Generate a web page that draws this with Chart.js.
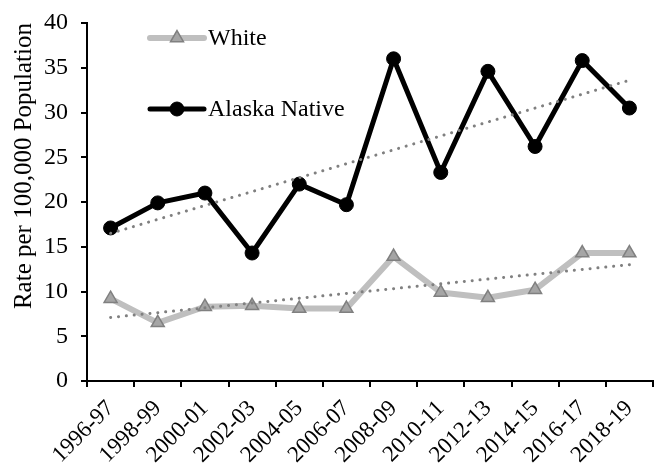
<!DOCTYPE html>
<html>
<head>
<meta charset="utf-8">
<script src="https://cdn.jsdelivr.net/npm/chart.js@4/dist/chart.umd.min.js"></script>
<style>
  html, body { margin: 0; padding: 0; background: #fff; }
  #wrap { width: 663px; height: 465px; }
</style>
</head>
<body>
<div id="wrap"><canvas id="c" width="663" height="465"></canvas></div>
<script>
const categories = ['1996-97','1998-99','2000-01','2002-03','2004-05','2006-07','2008-09','2010-11','2012-13','2014-15','2016-17','2018-19'];
const alaskaNative = [17.1, 19.9, 21.0, 14.3, 22.0, 19.7, 36.0, 23.3, 34.6, 26.2, 35.8, 30.5];
const white = [9.2, 6.5, 8.3, 8.4, 8.1, 8.1, 13.9, 9.9, 9.3, 10.2, 14.3, 14.3];
const alaskaTrend = [16.5, null, null, null, null, null, null, null, null, null, null, 33.6];
const whiteTrend = [7.1, null, null, null, null, null, null, null, null, null, null, 13.0];
const yTicks = [0, 5, 10, 15, 20, 25, 30, 35, 40];
const seriesNames = ['White', 'Alaska Native'];
const yTitle = 'Rate per 100,000 Population';

const FONT = "'Liberation Serif', 'Times New Roman', serif";
const whiteLine = '#BFBFBF', whiteFill = '#A5A5A5', whiteEdge = '#808080';
const trendColor = '#808080';

const legendPlugin = {
  id: 'customLegend',
  afterDraw(chart) {
    const ctx = chart.ctx;
    const items = [
      { label: seriesNames[0], y: 38, line: whiteLine, lw: 6, style: 'triangle', r: 7.5, fill: whiteFill, edge: whiteEdge, bw: 1.5 },
      { label: seriesNames[1], y: 109, line: '#000', lw: 5, style: 'circle', r: 7, fill: '#000', edge: '#000', bw: 1 }
    ];
    items.forEach(it => {
      ctx.save();
      ctx.strokeStyle = it.line;
      ctx.lineWidth = it.lw;
      ctx.lineCap = 'round';
      ctx.beginPath();
      ctx.moveTo(150, it.y);
      ctx.lineTo(204, it.y);
      ctx.stroke();
      ctx.fillStyle = it.fill;
      ctx.strokeStyle = it.edge;
      ctx.lineWidth = it.bw;
      Chart.helpers.drawPoint(ctx, { pointStyle: it.style, radius: it.r, rotation: 0, borderWidth: it.bw }, 177, it.y);
      ctx.fillStyle = '#000';
      ctx.font = '24px ' + FONT;
      ctx.textAlign = 'left';
      ctx.textBaseline = 'middle';
      ctx.fillText(it.label, 208, it.y + 1);
      ctx.restore();
    });
  }
};

new Chart(document.getElementById('c'), {
  type: 'line',
  data: {
    labels: categories,
    datasets: [
      { label: 'Alaska trend', data: alaskaTrend, spanGaps: true, borderColor: trendColor, borderWidth: 3,
        borderDash: [0.1, 7.8], borderCapStyle: 'round', pointRadius: 0, order: 0, tension: 0 },
      { label: 'White trend', data: whiteTrend, spanGaps: true, borderColor: trendColor, borderWidth: 3,
        borderDash: [0.1, 7.8], borderCapStyle: 'round', pointRadius: 0, order: 0, tension: 0 },
      { label: seriesNames[1], data: alaskaNative, borderColor: '#000', borderWidth: 5, pointStyle: 'circle',
        pointRadius: 7, pointBackgroundColor: '#000', pointBorderColor: '#000', pointBorderWidth: 1, order: 1,
        borderJoinStyle: 'round', tension: 0 },
      { label: seriesNames[0], data: white, borderColor: whiteLine, borderWidth: 6, pointStyle: 'triangle',
        pointRadius: 7.5, pointBackgroundColor: whiteFill, pointBorderColor: whiteEdge, pointBorderWidth: 1.5, order: 2,
        borderJoinStyle: 'round', tension: 0 }
    ]
  },
  options: {
    responsive: false,
    animation: false,
    devicePixelRatio: 1,
    layout: { padding: { top: 23, right: 10, left: 0, bottom: 0 } },
    plugins: { legend: { display: false }, tooltip: { enabled: false } },
    scales: {
      x: {
        type: 'category',
        offset: true,
        grid: { offset: true, drawOnChartArea: false, tickLength: 6, color: '#000', lineWidth: 2 },
        border: { color: '#000', width: 2 },
        ticks: { minRotation: 45, maxRotation: 45, autoSkip: false, color: '#000', font: { family: FONT, size: 23 }, padding: 8 },
        afterFit(s) { s.height = 84; s.paddingLeft = 0; s.paddingRight = 0; }
      },
      y: {
        min: 0, max: 40,
        afterBuildTicks(s) { s.ticks = yTicks.map(v => ({ value: v })); },
        grid: { drawOnChartArea: false, tickLength: 6, color: '#000', lineWidth: 2 },
        border: { color: '#000', width: 2 },
        ticks: { color: '#000', font: { family: FONT, size: 24 }, padding: 13 },
        title: { display: true, text: yTitle, align: 'end', color: '#000', font: { family: FONT, size: 25 }, padding: { top: 9, bottom: 0 } },
        afterFit(s) { s.width = 87; s.paddingTop = 0; s.paddingBottom = 0; }
      }
    }
  },
  plugins: [legendPlugin]
});
</script>
</body>
</html>
